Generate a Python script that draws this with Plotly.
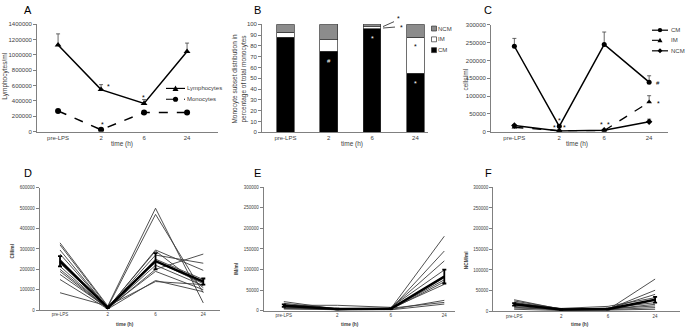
import plotly.graph_objects as go

W, H = 685, 332
FONT = "Liberation Sans"
AX = "#808080"
TXT = "#404040"

def fx(p):
    return p / W

def fy(p):
    return 1 - p / H

# ---------------- data ----------------
time_labels = ["pre-LPS", "2", "6", "24"]

# Panel A
lymphocytes = [1130000, 548000, 368000, 1045000]
lymphocytes_err = [145000, 65000, 50000, 110000]
monocytes = [270000, 25000, 250000, 250000]
monocytes_err = [10000, 5000, 25000, 10000]

# Panel B (percent of total monocytes)
pct_cm = [88.0, 75.2, 96.1, 54.5]
pct_im = [4.5, 10.3, 1.5, 33.4]
pct_ncm = [7.5, 14.5, 2.4, 12.1]

# Panel C (cells/ml)
c_cm = [240000, 15000, 245000, 139000]
c_cm_err = [22000, 3000, 35000, 18000]
c_im = [12000, 3000, 3000, 83000]
c_im_err = [3000, 1000, 1000, 18000]
c_ncm = [17000, 2000, 4000, 28000]
c_ncm_err = [3000, 1000, 1000, 7000]

# Panel D individual CM/ml
d_subjects = [
    [330000, 20000, 500000, 35000],
    [320000, 15000, 470000, 85000],
    [295000, 10000, 295000, 195000],
    [275000, 12000, 290000, 110000],
    [250000, 8000, 270000, 230000],
    [230000, 10000, 250000, 150000],
    [215000, 5000, 240000, 130000],
    [200000, 8000, 220000, 120000],
    [190000, 6000, 200000, 275000],
    [175000, 10000, 190000, 100000],
    [150000, 5000, 145000, 90000],
    [85000, 20000, 140000, 125000],
]
d_mean = [240000, 12000, 240000, 140000]
d_err = [25000, 3000, 40000, 15000]

# Panel E individual IM/ml
e_subjects = [
    [22000, 4000, 5000, 181000],
    [18000, 3000, 4000, 145000],
    [15000, 5000, 6000, 121000],
    [13000, 13000, 8000, 99000],
    [12000, 2000, 3000, 84000],
    [11000, 2000, 3000, 70000],
    [10000, 3000, 4000, 75000],
    [9000, 3000, 4000, 80000],
    [8000, 2000, 5000, 64000],
    [6000, 4000, 3000, 25000],
    [5000, 2000, 6000, 20000],
    [4000, 3000, 2000, 16000],
]
e_mean = [12000, 4000, 4500, 83000]
e_err = [3000, 1000, 1000, 17000]

# Panel F individual NCM/ml
f_subjects = [
    [28000, 5000, 4000, 78000],
    [25000, 6000, 5000, 51000],
    [22000, 4000, 6000, 41000],
    [20000, 7000, 12000, 33000],
    [18000, 3000, 3000, 28000],
    [15000, 5000, 8000, 21000],
    [12000, 4000, 5000, 17000],
    [10000, 3000, 6000, 13000],
    [8000, 5000, 4000, 9000],
    [5000, 2000, 3000, 5000],
]
f_mean = [17000, 4500, 5500, 28000]
f_err = [3000, 1000, 1000, 7000]

# ---------------- figure ----------------
fig = go.Figure()

def up_err(arr):
    return dict(type="data", array=arr, arrayminus=[0] * len(arr), symmetric=False,
                color="#404040", thickness=0.8, width=2)

# A
fig.add_trace(go.Scatter(x=time_labels, y=lymphocytes, mode="lines+markers",
                         line=dict(color="black", width=1.5),
                         marker=dict(symbol="triangle-up", size=6, color="black"),
                         error_y=up_err(lymphocytes_err), xaxis="x", yaxis="y", showlegend=False))
fig.add_trace(go.Scatter(x=time_labels, y=monocytes, mode="lines+markers",
                         line=dict(color="black", width=1.5, dash="dash"),
                         marker=dict(symbol="circle", size=6, color="black"),
                         error_y=up_err(monocytes_err), xaxis="x", yaxis="y", showlegend=False))

# B
for vals, col in [(pct_cm, "black"), (pct_im, "white"), (pct_ncm, "#8c8c8c")]:
    fig.add_trace(go.Bar(x=time_labels, y=vals, width=0.41,
                         marker=dict(color=col, line=dict(color="#303030", width=0.7)),
                         xaxis="x2", yaxis="y2", showlegend=False))

# C
fig.add_trace(go.Scatter(x=time_labels, y=c_cm, mode="lines+markers",
                         line=dict(color="black", width=1.5),
                         marker=dict(symbol="circle", size=5, color="black"),
                         error_y=up_err(c_cm_err), xaxis="x3", yaxis="y3", showlegend=False))
fig.add_trace(go.Scatter(x=time_labels, y=c_im, mode="lines+markers",
                         line=dict(color="black", width=1.3, dash="dash"),
                         marker=dict(symbol="triangle-up", size=5, color="black"),
                         error_y=up_err(c_im_err), xaxis="x3", yaxis="y3", showlegend=False))
fig.add_trace(go.Scatter(x=time_labels, y=c_ncm, mode="lines+markers",
                         line=dict(color="black", width=1.5),
                         marker=dict(symbol="diamond", size=5, color="black"),
                         error_y=up_err(c_ncm_err), xaxis="x3", yaxis="y3", showlegend=False))

# D, E, F
for subjects, mean, err, xa, ya in [(d_subjects, d_mean, d_err, "x4", "y4"),
                                    (e_subjects, e_mean, e_err, "x5", "y5"),
                                    (f_subjects, f_mean, f_err, "x6", "y6")]:
    for s in subjects:
        fig.add_trace(go.Scatter(x=time_labels, y=s, mode="lines",
                                 line=dict(color="#3c3c3c", width=0.9),
                                 xaxis=xa, yaxis=ya, showlegend=False))
    fig.add_trace(go.Scatter(x=time_labels, y=mean, mode="lines",
                             line=dict(color="black", width=2.4),
                             error_y=dict(type="data", array=err, color="black", thickness=1.8, width=2),
                             xaxis=xa, yaxis=ya, showlegend=False))

# ---------------- axes ----------------
def xax(d0, d1, r0, r1, anchor, size):
    return dict(domain=[fx(d0), fx(d1)], range=[r0, r1], type="category",
                categoryorder="array", categoryarray=time_labels, anchor=anchor,
                showline=True, linecolor=AX, linewidth=0.8, ticks="", showgrid=False,
                zeroline=False, tickfont=dict(size=size, color=TXT, family=FONT))

def yax(t0, t1, rmax, dtick, anchor, size):
    return dict(domain=[fy(t1), fy(t0)], range=[0, rmax], dtick=dtick, anchor=anchor,
                showline=True, linecolor=AX, linewidth=0.8, ticks="outside", ticklen=3,
                tickcolor=AX, tickwidth=0.8, showgrid=False, zeroline=False,
                tickformat="d", tickfont=dict(size=size, color=TXT, family=FONT))

fig.update_layout(
    width=W, height=H, margin=dict(l=0, r=0, t=0, b=0),
    paper_bgcolor="white", plot_bgcolor="white", barmode="stack",
    font=dict(family=FONT, color=TXT),
    xaxis=xax(37, 218, -0.49, 3.72, "y", 6),
    yaxis=yax(21.7, 131, 1400000, 200000, "x", 6),
    xaxis2=xax(262, 428, -0.54, 3.29, "y2", 6),
    yaxis2=yax(21.7, 131.7, 100, 10, "x2", 6),
    xaxis3=xax(491, 668, -0.52, 3.42, "y3", 6),
    yaxis3=yax(22.3, 131, 300000, 50000, "x3", 6),
    xaxis4=xax(39.5, 220, -0.43, 3.35, "y4", 4.5),
    yaxis4=yax(188.3, 312.7, 600000, 100000, "x4", 4.5),
    xaxis5=xax(263.5, 455, -0.38, 3.2, "y5", 4.5),
    yaxis5=yax(187.7, 313.3, 300000, 50000, "x5", 4.5),
    xaxis6=xax(493, 680, -0.45, 3.53, "y6", 4.5),
    yaxis6=yax(187.7, 314, 300000, 50000, "x6", 4.5),
)

ann = []
def txt(x, y, s, size=6.5, color=TXT, xanchor="center", angle=0, bold=False):
    if bold:
        s = "<b>" + s + "</b>"
    ann.append(dict(x=fx(x), y=fy(y), xref="paper", yref="paper", text=s, showarrow=False,
                    xanchor=xanchor, yanchor="middle", textangle=angle, borderpad=0,
                    font=dict(size=size, color=color, family=FONT)))

# panel letters
for lab, x, y in [("A", 28, 7), ("B", 257, 7), ("C", 488, 7), ("D", 28, 173), ("E", 257, 173), ("F", 488, 173)]:
    txt(x, y, lab, size=11, color="black")

# axis titles
txt(5, 75, "Lymphocytes/ml", size=6.5, angle=-90)
txt(122, 144, "time (h)", size=6.5)
txt(239, 77, "Monocyte subset distribution in<br>percentage of total monocytes", size=6.5, angle=-90)
txt(352, 144, "time (h)", size=6.5)
txt(466, 78, "cells/ml", size=6.5, angle=-90)
txt(577, 144, "time (h)", size=6.5)
txt(12, 253, "CM/ml", size=4.8, angle=-90, bold=True)
txt(125, 327, "time (h)", size=4.8, bold=True)
txt(236, 271, "IM/ml", size=4.8, angle=-90, bold=True)
txt(350, 327, "time (h)", size=4.8, bold=True)
txt(466, 262, "NCM/ml", size=4.8, angle=-90, bold=True)
txt(580, 327, "time (h)", size=4.8, bold=True)

# significance marks (data coordinates; x given as category index)
def mark(xa, ya, xcat, yval, s, xshift=0, color="black", size=7):
    ann.append(dict(x=time_labels.index(xcat), y=yval, xref=xa, yref=ya, text=s, showarrow=False,
                    xshift=xshift, font=dict(size=size, color=color, family=FONT)))

mark("x", "y", "2", 590000, "*", xshift=7)
mark("x", "y", "6", 450000, "*", xshift=-1)
mark("x", "y", "2", 90000, "*", xshift=1)
mark("x2", "y2", "2", 66, "#", color="white", size=6)
mark("x2", "y2", "6", 87, "*", color="white")
mark("x2", "y2", "24", 79, "*", color="black")
mark("x2", "y2", "24", 45, "*", color="white")
mark("x3", "y3", "24", 138000, "#", xshift=9, size=6)
mark("x3", "y3", "24", 80000, "*", xshift=9)
mark("x3", "y3", "2", 32000, "*", xshift=0)
mark("x3", "y3", "2", 11000, "*", xshift=-5)
mark("x3", "y3", "2", 11000, "*", xshift=5)
mark("x3", "y3", "6", 19000, "*", xshift=-3)
mark("x3", "y3", "6", 21000, "*", xshift=4)

# star leaders above the 6 h bar in B
txt(398, 16, "*", size=7, color="black")
txt(401, 25, "*", size=7, color="black")

shapes = []
def pline(x0, y0, x1, y1, dash="solid", width=1.2, color="black"):
    shapes.append(dict(type="line", xref="paper", yref="paper", x0=fx(x0), y0=fy(y0),
                       x1=fx(x1), y1=fy(y1), line=dict(color=color, width=width, dash=dash)))

def pcircle(cx, cy, r):
    shapes.append(dict(type="circle", xref="paper", yref="paper", x0=fx(cx - r), x1=fx(cx + r),
                       y0=fy(cy + r), y1=fy(cy - r), fillcolor="black", line=dict(width=0)))

def ppoly(pts):
    path = "M " + " L ".join(f"{fx(x):.5f},{fy(y):.5f}" for x, y in pts) + " Z"
    shapes.append(dict(type="path", xref="paper", yref="paper", path=path,
                       fillcolor="black", line=dict(width=0)))

def prect(x0, y0, x1, y1, fill):
    shapes.append(dict(type="rect", xref="paper", yref="paper", x0=fx(x0), x1=fx(x1),
                       y0=fy(y1), y1=fy(y0), fillcolor=fill, line=dict(color="#303030", width=0.7)))

pline(383, 24, 394, 19, width=0.7)
pline(383, 25.5, 395, 24.5, width=0.7)

# legend A
pline(166, 87, 185, 87)
ppoly([(172.5, 89.5), (178.5, 89.5), (175.5, 84)])
txt(186, 87, "Lymphocytes", size=6, xanchor="left")
pline(166, 98, 185, 98, dash="dash")
pcircle(175.5, 98, 2.6)
txt(186, 98, "Monocytes", size=6, xanchor="left")

# legend B
prect(431.5, 23.5, 436.5, 28.5, "#8c8c8c")
txt(437, 26, "NCM", size=6, xanchor="left")
prect(431.5, 34.5, 436.5, 39.5, "white")
txt(437, 37, "IM", size=6, xanchor="left")
prect(431.5, 45.5, 436.5, 50.5, "black")
txt(437, 48, "CM", size=6, xanchor="left")

# legend C
pline(652, 27.7, 668, 27.7)
pcircle(660, 27.7, 2.2)
txt(670, 27.7, "CM", size=6, xanchor="left")
pline(652, 38, 668, 38, dash="dash", width=1.1)
ppoly([(657.5, 40), (662.5, 40), (660, 35.5)])
txt(670, 38, "IM", size=6, xanchor="left")
pline(652, 48.7, 668, 48.7)
ppoly([(660, 46.2), (662.5, 48.7), (660, 51.2), (657.5, 48.7)])
txt(670, 48.7, "NCM", size=6, xanchor="left")

fig.update_layout(annotations=ann, shapes=shapes)

fig.write_html("out.html",
               config={"displayModeBar": False},
               post_script="document.body.style.margin='0';document.body.style.overflow='hidden';")
